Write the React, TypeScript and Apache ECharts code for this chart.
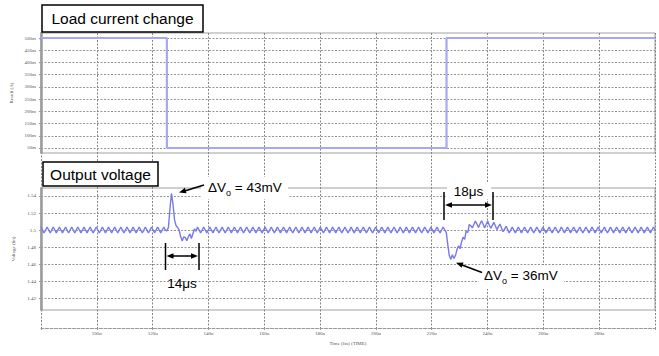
import React, { useEffect, useRef } from 'react';
import * as echarts from 'echarts';

// ---- Data ----
// Load current step (time in µs, current in A)
const LOAD_TIME_US = [80, 125.1, 125.1, 225.3, 225.3, 300];
const LOAD_CURRENT_A = [0.5, 0.5, 0.05, 0.05, 0.5, 0.5];
const LOAD_TICKS = [0.05, 0.1, 0.15, 0.2, 0.25, 0.3, 0.35, 0.4, 0.45, 0.5];
const VOUT_TICKS = [1.42, 1.44, 1.46, 1.48, 1.5, 1.52, 1.54];

// Output voltage, sampled every 0.55 µs starting at 80 µs (values in V)
const VOUT_START_US = 80;
const VOUT_STEP_US = 0.55;
const VOUT_V = [
  1.5035, 1.5, 1.4965, 1.5, 1.5035, 1.5, 1.4965, 1.5,
  1.5035, 1.5, 1.4965, 1.5, 1.5035, 1.5, 1.4965, 1.5,
  1.5035, 1.5, 1.4965, 1.5, 1.5035, 1.5, 1.4965, 1.5,
  1.5035, 1.5, 1.4965, 1.5, 1.5035, 1.5, 1.4965, 1.5,
  1.5035, 1.5, 1.4965, 1.5, 1.5035, 1.5, 1.4965, 1.5,
  1.5035, 1.5, 1.4965, 1.5, 1.5035, 1.5, 1.4965, 1.5,
  1.5035, 1.5, 1.4965, 1.5, 1.5035, 1.5, 1.4965, 1.5,
  1.5035, 1.5, 1.4965, 1.5, 1.5035, 1.5, 1.4965, 1.5,
  1.5035, 1.5, 1.4965, 1.5, 1.5035, 1.5, 1.4965, 1.5,
  1.5035, 1.5, 1.4965, 1.5, 1.5035, 1.5, 1.4965, 1.5,
  1.5035, 1.5,
  // load release transient (overshoot)
  1.499, 1.503, 1.525, 1.543, 1.530, 1.512, 1.505, 1.503, 1.500, 1.492,
  1.487, 1.492, 1.491, 1.4875, 1.492, 1.4955, 1.490, 1.496, 1.5015, 1.4985,
  // light load steady state
  1.5035, 1.5, 1.4965, 1.5, 1.5035, 1.5, 1.4965, 1.5,
  1.5035, 1.5, 1.4965, 1.5, 1.5035, 1.5, 1.4965, 1.5,
  1.5035, 1.5, 1.4965, 1.5, 1.5035, 1.5, 1.4965, 1.5,
  1.5035, 1.5, 1.4965, 1.5, 1.5035, 1.5, 1.4965, 1.5,
  1.5035, 1.5, 1.4965, 1.5, 1.5035, 1.5, 1.4965, 1.5,
  1.5035, 1.5, 1.4965, 1.5, 1.5035, 1.5, 1.4965, 1.5,
  1.5035, 1.5, 1.4965, 1.5, 1.5035, 1.5, 1.4965, 1.5,
  1.5035, 1.5, 1.4965, 1.5, 1.5035, 1.5, 1.4965, 1.5,
  1.5035, 1.5, 1.4965, 1.5, 1.5035, 1.5, 1.4965, 1.5,
  1.5035, 1.5, 1.4965, 1.5, 1.5035, 1.5, 1.4965, 1.5,
  1.5035, 1.5, 1.4965, 1.5, 1.5035, 1.5, 1.4965, 1.5,
  1.5035, 1.5, 1.4965, 1.5, 1.5035, 1.5, 1.4965, 1.5,
  1.5035, 1.5, 1.4965, 1.5, 1.5035, 1.5, 1.4965, 1.5,
  1.5035, 1.5, 1.4965, 1.5, 1.5035, 1.5, 1.4965, 1.5,
  1.5035, 1.5, 1.4965, 1.5, 1.5035, 1.5, 1.4965, 1.5,
  1.5035, 1.5, 1.4965, 1.5, 1.5035, 1.5, 1.4965, 1.5,
  1.5035, 1.5, 1.4965, 1.5, 1.5035, 1.5, 1.4965, 1.5,
  1.5035, 1.5, 1.4965, 1.5, 1.5035, 1.5, 1.4965, 1.5,
  1.5035, 1.5, 1.4965, 1.5, 1.5035, 1.5, 1.4965, 1.5,
  1.5035, 1.5, 1.4965, 1.5, 1.5035, 1.5, 1.4965, 1.5,
  1.5035, 1.5,
  // load step transient (undershoot) and recovery
  1.4975, 1.483, 1.470, 1.4655, 1.471, 1.4665, 1.470, 1.477, 1.4815, 1.478,
  1.486, 1.4915, 1.489, 1.499, 1.497, 1.5065, 1.505, 1.5025, 1.5065, 1.5105,
  1.507, 1.503, 1.507, 1.511, 1.507, 1.5025, 1.5065, 1.5105, 1.506, 1.502,
  1.5055, 1.509, 1.505, 1.5005, 1.504, 1.507, 1.5025, 1.498, 1.501, 1.5045,
  1.5005, 1.4965, 1.5,
  // heavy load steady state
  1.5035, 1.5, 1.4965, 1.5, 1.5035, 1.5, 1.4965, 1.5,
  1.5035, 1.5, 1.4965, 1.5, 1.5035, 1.5, 1.4965, 1.5,
  1.5035, 1.5, 1.4965, 1.5, 1.5035, 1.5, 1.4965, 1.5,
  1.5035, 1.5, 1.4965, 1.5, 1.5035, 1.5, 1.4965, 1.5,
  1.5035, 1.5, 1.4965, 1.5, 1.5035, 1.5, 1.4965, 1.5,
  1.5035, 1.5, 1.4965, 1.5, 1.5035, 1.5, 1.4965, 1.5,
  1.5035, 1.5, 1.4965, 1.5, 1.5035, 1.5, 1.4965, 1.5,
  1.5035, 1.5, 1.4965, 1.5, 1.5035, 1.5, 1.4965, 1.5,
  1.5035, 1.5, 1.4965, 1.5, 1.5035, 1.5, 1.4965, 1.5,
  1.5035, 1.5, 1.4965, 1.5, 1.5035, 1.5, 1.4965, 1.5,
  1.5035, 1.5, 1.4965, 1.5, 1.5035, 1.5, 1.4965, 1.5,
  1.5035, 1.5, 1.4965, 1.5,
  1.5035, 1.5,
];

const FONT_SANS = '"Liberation Sans", Arial, Helvetica, sans-serif';
const FONT_TINY = '"Liberation Serif", "DejaVu Serif", serif';

function arrowHead(tx: number, ty: number, fx: number, fy: number, len = 7, half = 2.8) {
  const dx = tx - fx;
  const dy = ty - fy;
  const L = Math.hypot(dx, dy);
  const ux = dx / L;
  const uy = dy / L;
  const bx = tx - ux * len;
  const by = ty - uy * len;
  const nx = -uy;
  const ny = ux;
  return {
    type: 'polygon',
    z: 110,
    shape: { points: [[tx, ty], [bx + nx * half, by + ny * half], [bx - nx * half, by - ny * half]] },
    style: { fill: '#000' },
  };
}

function seg(x1: number, y1: number, x2: number, y2: number, w = 1.5) {
  return { type: 'line', z: 110, shape: { x1, y1, x2, y2 }, style: { stroke: '#000', lineWidth: w } };
}

function deltaText(x: number, y: number, rest: string) {
  return {
    type: 'text',
    z: 111,
    x,
    y,
    style: {
      text: `{m|ΔV}{s|o}{m|${rest}}`,
      align: 'left',
      verticalAlign: 'middle',
      rich: {
        m: { fontSize: 13.5, fontFamily: FONT_SANS, fill: '#000', lineHeight: 20, verticalAlign: 'middle' },
        s: { fontSize: 9, fontFamily: FONT_SANS, fill: '#000', lineHeight: 20, verticalAlign: 'bottom' },
      },
    },
  };
}

export default function App() {
  const ref = useRef<HTMLDivElement>(null);

  useEffect(() => {
    if (!ref.current) return;
    const chart = echarts.init(ref.current, null, { renderer: 'svg' });

    const loadData = LOAD_TIME_US.map((t, i) => [t, LOAD_CURRENT_A[i]]);
    const voutData = VOUT_V.map((v, i) => [VOUT_START_US + i * VOUT_STEP_US, v]);

    const tinyLabel = { fontSize: 5, color: '#555', fontFamily: FONT_TINY };
    const hSplit = { show: true, lineStyle: { color: '#959595', type: [2, 1.5], width: 1 } };
    const yAxisLine = { show: true, lineStyle: { color: '#9a9a9a', width: 2.5 } };
    const yTick = { show: true, length: 2, lineStyle: { color: '#999' } };

    const graphic: any[] = [
      // Title boxes
      { type: 'rect', z: 100, shape: { x: 42, y: 5, width: 161, height: 27 }, style: { fill: '#fff', stroke: '#000', lineWidth: 1.5 } },
      { type: 'text', z: 101, x: 122.5, y: 18.5, style: { text: 'Load current change', fontSize: 15.5, fontFamily: FONT_SANS, fill: '#000', align: 'center', verticalAlign: 'middle' } },
      { type: 'rect', z: 100, shape: { x: 43, y: 162, width: 115, height: 24 }, style: { fill: '#fff', stroke: '#000', lineWidth: 1.5 } },
      { type: 'text', z: 101, x: 100.5, y: 174, style: { text: 'Output voltage', fontSize: 15.5, fontFamily: FONT_SANS, fill: '#000', align: 'center', verticalAlign: 'middle' } },

      // ΔVo = 43mV
      { type: 'rect', z: 100, shape: { x: 201, y: 177, width: 87, height: 22 }, style: { fill: '#fff' } },
      deltaText(208, 187, ' = 43mV'),
      seg(204, 185, 183, 191.5),
      arrowHead(179, 192.5, 204, 185),

      // 14µs bracket
      seg(165.5, 243, 165.5, 270),
      seg(199, 243, 199, 270),
      seg(170, 256, 194, 256),
      arrowHead(166.5, 256, 197, 256),
      arrowHead(198, 256, 167, 256),
      { type: 'text', z: 111, x: 182, y: 283, style: { text: '14μs', fontSize: 13.5, fontFamily: FONT_SANS, fill: '#000', align: 'center', verticalAlign: 'middle' } },

      // 18µs bracket
      { type: 'rect', z: 100, shape: { x: 447, y: 183, width: 44, height: 16 }, style: { fill: '#fff' } },
      seg(444, 192, 444, 220),
      seg(493, 192, 493, 220),
      seg(449, 205, 488, 205),
      arrowHead(445, 205, 492, 205),
      arrowHead(492, 205, 445, 205),
      { type: 'text', z: 111, x: 468.5, y: 191.5, style: { text: '18μs', fontSize: 13.5, fontFamily: FONT_SANS, fill: '#000', align: 'center', verticalAlign: 'middle' } },

      // ΔVo = 36mV
      { type: 'rect', z: 100, shape: { x: 479, y: 265, width: 85, height: 24 }, style: { fill: '#fff' } },
      deltaText(484, 275, ' = 36mV'),
      seg(482, 272.5, 460, 264.2),
      arrowHead(456, 262.7, 482, 272.5),
    ];

    const option: any = {
      animation: false,
      backgroundColor: '#fff',
      grid: [
        { left: 41, top: 33, width: 614, height: 120, show: true, borderColor: '#a0a0a0', borderWidth: 1, backgroundColor: 'transparent' },
        { left: 41, top: 188, width: 614, height: 122, show: true, borderColor: '#a0a0a0', borderWidth: 1, backgroundColor: 'transparent' },
        { left: 41, top: 33, width: 614, height: 295, show: false },
      ],
      xAxis: [
        { type: 'value', gridIndex: 0, min: 80, max: 300, show: false },
        { type: 'value', gridIndex: 1, min: 80, max: 300, show: false },
        {
          type: 'value',
          gridIndex: 2,
          min: 80,
          max: 300,
          interval: 20,
          position: 'bottom',
          axisLine: { show: true, lineStyle: { color: '#999', type: [3, 1.5], width: 1 } },
          axisTick: { show: true, length: 2, lineStyle: { color: '#999' } },
          axisLabel: {
            ...tinyLabel,
            margin: 3,
            formatter: (v: number) => (v === 80 || v === 300 ? '' : `${v}u`),
          },
          splitLine: { show: true, lineStyle: { color: '#858585', type: [2, 1.5], width: 1 } },
          name: 'Time (lin) (TIME)',
          nameLocation: 'middle',
          nameGap: 10,
          nameTextStyle: { ...tinyLabel },
        },
      ],
      yAxis: [
        {
          type: 'value',
          gridIndex: 0,
          min: 0.0295,
          max: 0.5205,
          axisLine: yAxisLine,
          axisTick: { ...yTick, customValues: LOAD_TICKS },
          axisLabel: {
            ...tinyLabel,
            margin: 5,
            customValues: LOAD_TICKS,
            formatter: (v: number) => `${Math.round(v * 1000)}m`,
          },
          splitLine: hSplit,
          name: 'Result (A)',
          nameLocation: 'middle',
          nameGap: 24,
          nameRotate: 90,
          nameTextStyle: { ...tinyLabel },
        },
        {
          type: 'value',
          gridIndex: 1,
          min: 1.406,
          max: 1.5494,
          axisLine: yAxisLine,
          axisTick: { ...yTick, customValues: VOUT_TICKS },
          axisLabel: {
            ...tinyLabel,
            margin: 5,
            customValues: VOUT_TICKS,
            formatter: (v: number) => `${+v.toFixed(2)}`,
          },
          splitLine: hSplit,
          name: 'Voltage (lin)',
          nameLocation: 'middle',
          nameGap: 24,
          nameRotate: 90,
          nameTextStyle: { ...tinyLabel },
        },
        { type: 'value', gridIndex: 2, min: 0, max: 1, show: false },
      ],
      series: [
        {
          type: 'line',
          xAxisIndex: 0,
          yAxisIndex: 0,
          data: loadData,
          showSymbol: false,
          lineStyle: { color: '#a7a7f6', width: 2.2 },
          z: 5,
        },
        {
          type: 'line',
          xAxisIndex: 1,
          yAxisIndex: 1,
          data: voutData,
          showSymbol: false,
          lineStyle: { color: '#7878ec', width: 1.4 },
          z: 5,
        },
      ],
      graphic,
    };

    chart.setOption(option);
    return () => chart.dispose();
  }, []);

  return (
    <div
      ref={ref}
      style={{ position: 'fixed', left: 0, top: 0, width: 659, height: 356, background: '#fff' }}
    />
  );
}
